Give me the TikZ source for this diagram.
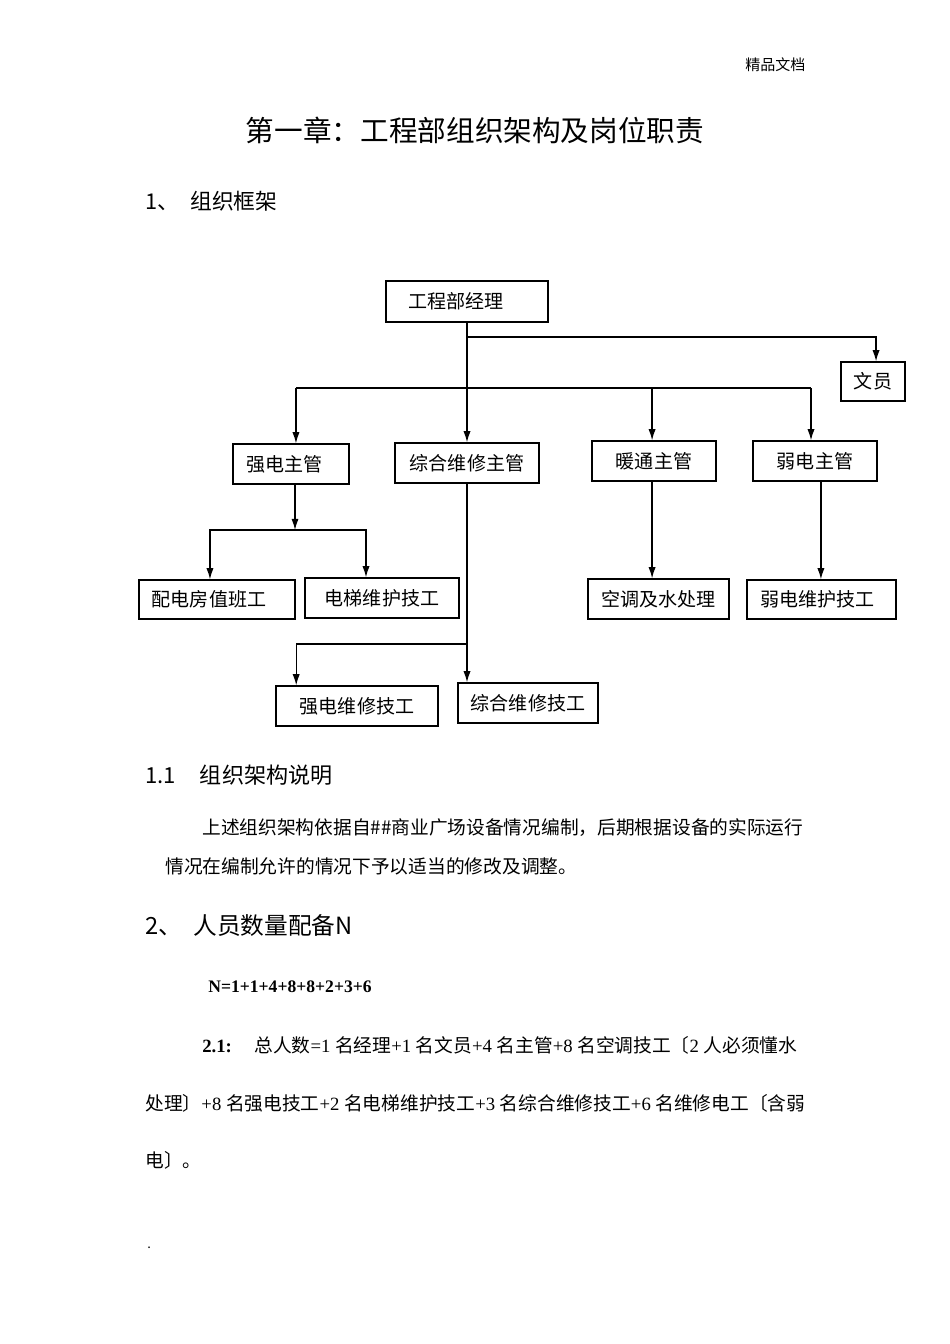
\documentclass[tikz,border=0pt]{standalone}
\usepackage{fontspec}
\setmainfont{Noto Sans CJK SC}
\newfontfamily\lat{Liberation Serif}
\usetikzlibrary{arrows.meta}

\begin{document}
\begin{tikzpicture}[x=0.625pt, y=-0.625pt,
  box/.style n args={2}{draw, line width=0.8pt, inner sep=0pt,
    minimum width=#1*0.625pt, minimum height=#2*0.625pt,
    font=\fontsize{11.9pt}{14pt}\selectfont},
  arr/.style={-{Latex[length=7pt,width=4.5pt]}, line width=0.8pt},
  line/.style={line width=0.8pt},
  txt/.style={anchor=west, inner sep=0pt, font=\fontsize{11.7pt}{14pt}\selectfont}]
  \fill[white] (0,0) rectangle (950,1344);
  \useasboundingbox (0,0) rectangle (950,1344);
  % cabecalho
  \node[txt, font=\fontsize{9.4pt}{11pt}\selectfont] (hdr) at (745,65) {精品文档};
  \node[inner sep=0pt, font=\fontsize{17.9pt}{20pt}\selectfont] (title) at (475,130) {第一章：工程部组织架构及岗位职责};
  \node[txt, font=\fontsize{13.6pt}{16pt}\selectfont] (sec1) at (145,201) {1、\hspace{7pt}组织框架};
  % caixas
  \node[box={162}{41}] (mgr) at (467,301.5) {\hspace*{-13.5pt}工程部经理};
  \node[box={64}{39}] (clerk) at (873,381.5) {文员};
  \node[box={116}{40}] (qd) at (291,464) {\hspace*{-8.5pt}强电主管};
  \node[box={144}{40}] (zh) at (467,463) {综合维修主管};
  \node[box={124}{40}] (nt) at (654,461) {暖通主管};
  \node[box={124}{40}] (rd) at (815,461) {弱电主管};
  \node[box={156}{39}] (pd) at (217,599.5) {\hspace*{-10pt}配电房值班工};
  \node[box={154}{40}] (dt) at (382,598) {电梯维护技工};
  \node[box={141}{40}] (kt) at (658.5,599) {空调及水处理};
  \node[box={149}{39}] (rw) at (821.5,599.5) {\hspace*{-5pt}弱电维护技工};
  \node[box={162}{40}] (qw) at (357,706) {强电维修技工};
  \node[box={140}{40}] (zw) at (528,703) {综合维修技工};
  % ligacoes
  \coordinate (mbus) at (467,337);
  \coordinate (rbus) at (467,388);
  \coordinate (qbus) at (295,530);
  \coordinate (zbus) at (467,644);
  \draw[arr] (mgr.south) -- (mgr.south |- zh.north);
  \draw[arr] (mbus) -| ([xshift=1.9pt]clerk.north);
  \draw[line] ([xshift=3.1pt]qd.north |- rbus) -- ([xshift=-2.5pt]rd.north |- rbus);
  \draw[arr] ([xshift=3.1pt]qd.north |- rbus) -- ([xshift=3.1pt]qd.north);
  \draw[arr] ([xshift=-1.2pt]nt.north |- rbus) -- ([xshift=-1.2pt]nt.north);
  \draw[arr] ([xshift=-2.5pt]rd.north |- rbus) -- ([xshift=-2.5pt]rd.north);
  \draw[arr] (qd.south -| qbus) -- (qbus);
  \draw[arr] (qbus) -| ([xshift=-4.4pt]pd.north);
  \draw[arr] (qbus) -| ([xshift=-10pt]dt.north);
  \draw[arr] (zh.south) -- (zh.south |- zw.north);
  \draw[arr] (zbus) -| ([xshift=-38pt]qw.north);
  \draw[arr] ([xshift=-1.2pt]nt.south) -- ([xshift=-1.2pt]nt.south |- kt.north);
  \draw[arr] ([xshift=3.7pt]rd.south) -- ([xshift=3.7pt]rd.south |- rw.north);
  % textos
  \node[txt, font=\fontsize{13.8pt}{16pt}\selectfont] (sec11) at (145,775) {1.1\hspace{15pt}组织架构说明};
  \node[txt] (par1) at (202,828) {上述组织架构依据自\#\#商业广场设备情况编制，后期根据设备的实际运行};
  \node[txt] (par2) at (165,866) {情况在编制允许的情况下予以适当的修改及调整。};
  \node[txt, font=\fontsize{14.8pt}{17pt}\selectfont] (sec2) at (145,926) {2、\hspace{7pt}人员数量配备N};
  \node[txt, font=\fontsize{11pt}{13pt}\selectfont\lat\bfseries] (nsum) at (208,987) {N=1+1+4+8+8+2+3+6};
  \node[txt] (tot1) at (202,1045) {{\lat\bfseries 2.1:}\hspace{14pt}总人数{\lat =1 }名经理{\lat +1 }名文员{\lat +4 }名主管{\lat +8 }名空调技工〔{\lat 2 }人必须懂水};
  \node[txt] (tot2) at (145,1103) {处理〕{\lat +8 }名强电技工{\lat +2 }名电梯维护技工{\lat +3 }名综合维修技工{\lat +6 }名维修电工〔含弱};
  \node[txt] (tot3) at (145,1160) {电〕。};
  \node[txt, font=\fontsize{8pt}{9pt}\selectfont] (dot) at (147,1248) {.};
\end{tikzpicture}
\end{document}
